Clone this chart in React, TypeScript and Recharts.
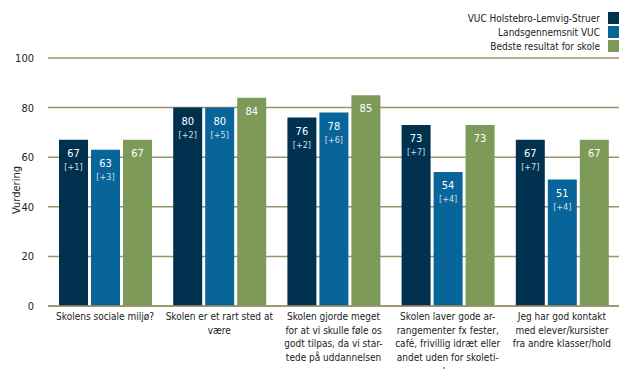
import React from 'react';
import { BarChart, Bar, XAxis, YAxis, CartesianGrid, LabelList } from 'recharts';

const categories = [
  'Skolens sociale miljø?',
  'Skolen er et rart sted at\nvære',
  'Skolen gjorde meget\nfor at vi skulle føle os\ngodt tilpas, da vi star-\ntede på uddannelsen',
  'Skolen laver gode ar-\nrangementer fx fester,\ncafé, frivillig idræt eller\nandet uden for skoleti-\nden',
  'Jeg har god kontakt\nmed elever/kursister\nfra andre klasser/hold',
];
const vucValues = [67, 80, 76, 73, 67];
const vucDiffs = ['+1', '+2', '+2', '+7', '+7'];
const landsValues = [63, 80, 78, 54, 51];
const landsDiffs = ['+3', '+5', '+6', '+4', '+4'];
const bestValues = [67, 84, 85, 73, 67];
const yTicks = [0, 20, 40, 60, 80, 100];

const series = [
  { key: 'vuc', name: 'VUC Holstebro-Lemvig-Struer', color: '#00324f' },
  { key: 'lands', name: 'Landsgennemsnit VUC', color: '#07659a' },
  { key: 'best', name: 'Bedste resultat for skole', color: '#7e9a58' },
];

const data = categories.map((c, i) => ({
  name: c,
  vuc: vucValues[i],
  vucDiff: vucDiffs[i],
  lands: landsValues[i],
  landsDiff: landsDiffs[i],
  best: bestValues[i],
}));

const font = '"DejaVu Sans Condensed", "DejaVu Sans", sans-serif';

const CatTick = (props: any) => {
  const { x, payload } = props;
  const lines = String(payload.value).split('\n');
  return (
    <text x={x} y={320} textAnchor="middle" fontSize={10} fontFamily={font} fill="#222">
      {lines.map((l, i) => (
        <tspan key={i} x={x} dy={i === 0 ? 0 : 13.7}>{l}</tspan>
      ))}
    </text>
  );
};

const YLabel = (props: any) => {
  const { viewBox } = props;
  const cy = viewBox.y + viewBox.height / 2 + 8;
  return (
    <text x={20} y={cy} transform={`rotate(-90 20 ${cy})`} textAnchor="middle" fontSize={11} fontFamily={font} fill="#222">
      Vurdering
    </text>
  );
};

const makeLabel = (diffs?: string[]) => (props: any) => {
  const { x, y, width, value, index } = props;
  const cx = x + width / 2;
  return (
    <g fontFamily={font}>
      <text x={cx} y={y + 17} textAnchor="middle" fontSize={11} fill="#ffffff">{value}</text>
      {diffs && (
        <text x={cx} y={y + 30} textAnchor="middle" fontSize={9} fill="#d6dde4">[{diffs[index]}]</text>
      )}
    </g>
  );
};

export default function App() {
  return (
    <div style={{ position: 'absolute', left: 0, top: 0, width: 619, height: 369, background: '#fff', overflow: 'hidden' }}>
      <BarChart
        width={619}
        height={369}
        data={data}
        margin={{ top: 58, right: 0, bottom: 0, left: 0 }}
        barSize={29}
        barGap={3}
        barCategoryGap={11}
      >
        <CartesianGrid vertical={false} stroke="#9e9068" strokeWidth={1.5} />
        <XAxis
          dataKey="name"
          interval={0}
          tick={<CatTick />}
          tickLine={false}
          axisLine={{ stroke: '#9e9068', strokeWidth: 1.5 }}
          height={63}
        />
        <YAxis
          domain={[0, 100]}
          ticks={yTicks}
          width={48}
          tickLine={false}
          axisLine={false}
          tick={{ fontSize: 11, fontFamily: font, fill: '#222' }}
          tickMargin={8}
          label={<YLabel />}
        />
        <Bar dataKey="vuc" fill={series[0].color} isAnimationActive={false}>
          <LabelList dataKey="vuc" content={makeLabel(vucDiffs)} />
        </Bar>
        <Bar dataKey="lands" fill={series[1].color} isAnimationActive={false}>
          <LabelList dataKey="lands" content={makeLabel(landsDiffs)} />
        </Bar>
        <Bar dataKey="best" fill={series[2].color} isAnimationActive={false}>
          <LabelList dataKey="best" content={makeLabel()} />
        </Bar>
      </BarChart>
      <div style={{ position: 'absolute', right: 0, top: 11, fontFamily: font, fontSize: 10, color: '#222' }}>
        {series.map((s) => (
          <div key={s.key} style={{ display: 'flex', justifyContent: 'flex-end', alignItems: 'center', height: 14 }}>
            <span style={{ marginRight: 8 }}>{s.name}</span>
            <span style={{ display: 'inline-block', width: 11, height: 12, background: s.color }} />
          </div>
        ))}
      </div>
    </div>
  );
}
